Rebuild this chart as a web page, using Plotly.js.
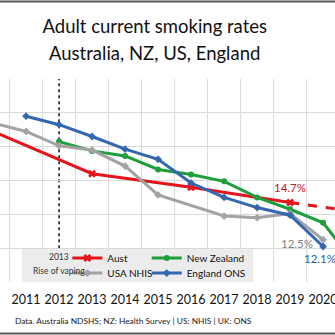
<!DOCTYPE html>
<html>
<head>
<meta charset="utf-8">
<script src="https://cdn.plot.ly/plotly-3.0.1.min.js"></script>
<style>html,body{margin:0;padding:0;background:#fff;}#chart{width:335px;height:335px;}</style>
</head>
<body>
<div id="chart"></div>
<script>
// ---- data ----
const years = [2010, 2011, 2012, 2013, 2014, 2015, 2016, 2017, 2018, 2019, 2020, 2021];
const aust = [18.9, null, null, 16.4, null, null, 15.6, null, null, 14.7, null, null];
const austProjYears = [2019, 2021];
const austProj = [14.7, 14.15];
const newZealand = [null, null, 18.3, 17.75, 17.45, 16.65, 16.35, 15.95, 15.0, 14.3, 13.5, 11.0];
const usaNhis = [19.4, 18.9, 18.05, 17.8, 16.85, 15.15, null, 13.9, 13.8, 14.05, 12.5, null];
const englandOns = [null, 19.8, 19.3, 18.6, 17.85, 17.25, 15.85, 15.0, 14.4, 13.95, 12.1, null];
const tickYears = [2010, 2011, 2012, 2013, 2014, 2015, 2016, 2017, 2018, 2019, 2020];
const tickLabels = ["2010", "2011", "2012", "2013", "2014", "2015", "2016", "2017", "2018", "2019", "2020"];
const seriesNames = ["Aust", "New Zealand", "USA NHIS", "England ONS"];
const vapingYear = 2012;
const endLabels = [
  {year: 2019, value: 14.7, text: "14.7%"},
  {year: 2020, value: 12.5, text: "12.5%"},
  {year: 2020, value: 12.1, text: "12.1%"}
];

const FONT = 'Lato, "Open Sans", sans-serif';
const RED = '#e5141b', GREEN = '#1f9e3c', GRAY = '#a3a3a3', BLUE = '#3566b0';

const traces = [
  {x: years, y: aust, name: seriesNames[0], mode: 'lines+markers', connectgaps: true,
   line: {color: RED, width: 3}, marker: {symbol: 'x', size: 7, color: RED}, legend: 'legend'},
  {x: austProjYears, y: austProj, mode: 'lines', showlegend: false,
   line: {color: RED, width: 3, dash: 'dash'}},
  {x: years, y: newZealand, name: seriesNames[1], mode: 'lines+markers', connectgaps: true,
   line: {color: GREEN, width: 3}, marker: {symbol: 'circle', size: 6, color: GREEN}, legend: 'legend2'},
  {x: years, y: usaNhis, name: seriesNames[2], mode: 'lines+markers', connectgaps: true,
   line: {color: GRAY, width: 3}, marker: {symbol: 'diamond', size: 6, color: GRAY}, legend: 'legend3'},
  {x: years, y: englandOns, name: seriesNames[3], mode: 'lines+markers', connectgaps: true,
   line: {color: BLUE, width: 3}, marker: {symbol: 'diamond', size: 6, color: BLUE}, legend: 'legend4'}
];

const shapes = [];
// vertical gridlines between categories
years.forEach(y => {
  shapes.push({type: 'line', xref: 'x', yref: 'y', x0: y - 0.5, x1: y - 0.5, y0: 10, y1: 22,
    line: {color: '#d9d9d9', width: 1}, layer: 'below'});
});
// legend / annotation background box
shapes.push({type: 'rect', xref: 'x', yref: 'y', x0: 2010.88, x1: 2017.88, y0: 10, y1: 12,
  fillcolor: '#ececec', line: {width: 0}, layer: 'below'});
// rise-of-vaping dotted line
shapes.push({type: 'line', xref: 'x', yref: 'y', x0: vapingYear, x1: vapingYear, y0: 12, y1: 22,
  line: {color: '#111', width: 1.5, dash: 'dot'}, layer: 'below'});
// outer border lines (top / bottom)
shapes.push({type: 'line', xref: 'paper', yref: 'paper', x0: -0.1, x1: 1.1, y0: 1.382, y1: 1.382,
  line: {color: '#595959', width: 2}});
shapes.push({type: 'line', xref: 'paper', yref: 'paper', x0: -0.1, x1: 1.1, y0: -0.254, y1: -0.254,
  line: {color: '#595959', width: 2}});

const labelColors = ['#c0161c', '#7f7f7f', '#2e5c9e'];
const labelOffsets = [[0, 15], [-26, -4], [-3, -12]];
const annotations = endLabels.map((l, i) => ({
  x: l.year, y: l.value, xref: 'x', yref: 'y', text: l.text, showarrow: false,
  xshift: labelOffsets[i][0], yshift: labelOffsets[i][1],
  font: {family: FONT, size: 11.5, color: labelColors[i]}
}));
annotations.push({
  xref: 'paper', yref: 'paper', x: 0.462, y: 1.128, yanchor: 'middle', xanchor: 'center',
  text: 'Australia, NZ, US, England', showarrow: false,
  font: {family: FONT, size: 18.5, color: '#111'}
});
annotations.push({
  xref: 'x', yref: 'paper', x: 2012, y: 0.123, yanchor: 'middle', xanchor: 'center',
  text: '2013', showarrow: false,
  font: {family: FONT, size: 8.5, color: '#333'}
});
annotations.push({
  xref: 'x', yref: 'paper', x: 2012, y: 0.054, yanchor: 'middle', xanchor: 'center',
  text: 'Rise of vaping', showarrow: false,
  font: {family: FONT, size: 8.5, color: '#333'}
});
annotations.push({
  xref: 'paper', yref: 'paper', x: 0.04, y: -0.19, yanchor: 'middle', xanchor: 'left',
  text: 'Data. Australia NDSHS; NZ: Health Survey | US: NHIS | UK: ONS', showarrow: false,
  font: {family: FONT, size: 8.4, color: '#222'}
});

function leg(x, y) {
  return {x: x, y: y, xanchor: 'left', yanchor: 'middle', bgcolor: 'rgba(0,0,0,0)',
    font: {family: FONT, size: 10, color: '#111'}, itemwidth: 30};
}

const layout = {
  width: 335, height: 335,
  margin: {l: 0, r: 0, t: 79, b: 53},
  paper_bgcolor: '#ffffff', plot_bgcolor: '#ffffff',
  title: {text: 'Adult current smoking rates', x: 0.462, xanchor: 'center', y: 0.922, yanchor: 'middle',
    font: {family: FONT, size: 18.5, color: '#111'}},
  xaxis: {range: [2010.21, 2020.36], tickmode: 'array', tickvals: tickYears, ticktext: tickLabels,
    showgrid: false, zeroline: false, showline: false, ticks: '', ticklabeloverflow: 'allow',
    ticklabelstandoff: 8,
    tickfont: {family: FONT, size: 12.5, color: '#111'}},
  yaxis: {range: [10, 22], dtick: 2, tick0: 10, showgrid: true, gridcolor: '#d9d9d9', gridwidth: 1,
    zeroline: false, showticklabels: false, showline: false},
  showlegend: true,
  legend: leg(0.201, 0.118),
  legend2: leg(0.438, 0.118),
  legend3: leg(0.201, 0.044),
  legend4: leg(0.438, 0.044),
  shapes: shapes,
  annotations: annotations
};

Plotly.newPlot('chart', traces, layout, {displayModeBar: false, staticPlot: true});
</script>
</body>
</html>
